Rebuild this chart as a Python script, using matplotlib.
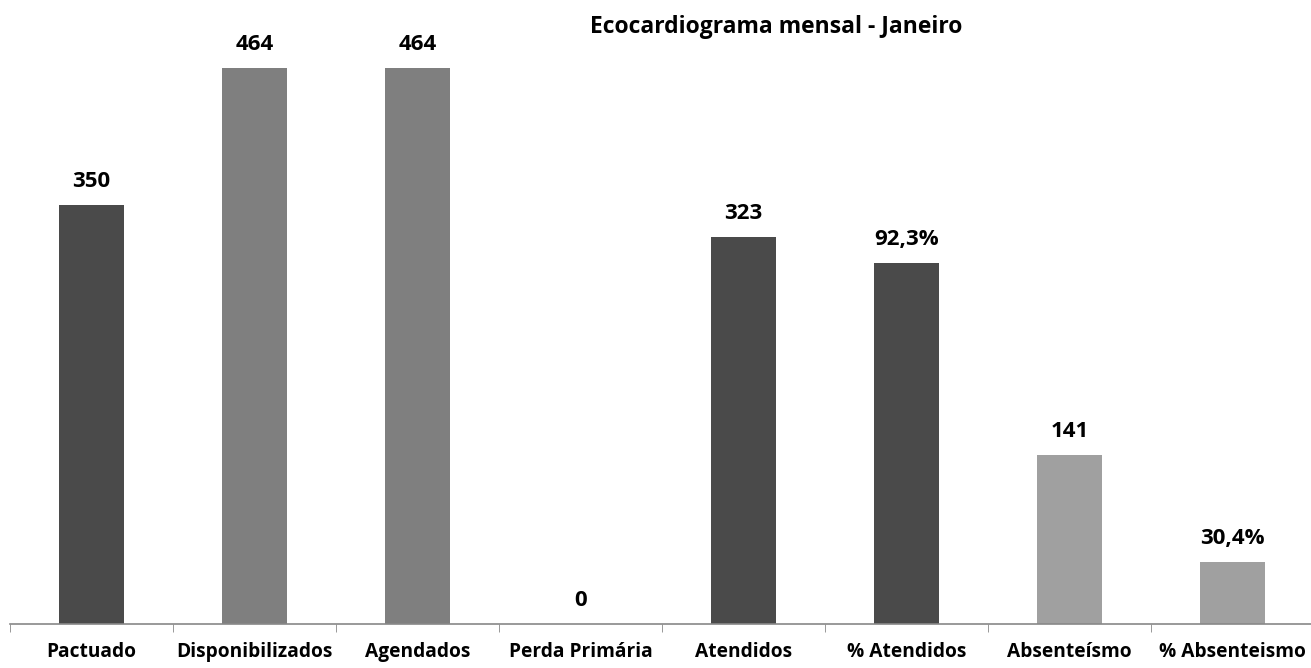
import numpy as np
import matplotlib.pyplot as plt

categorias = ["Pactuado", "Disponibilizados", "Agendados", "Perda Primária",
              "Atendidos", "% Atendidos", "Absenteísmo", "% Absenteismo"]
# altura das barras como aparecem no gráfico (as de % estão noutra escala)
alturas = [350, 464, 464, 0, 323, 301, 141, 51.5]
rotulos = ["350", "464", "464", "0", "323", "92,3%", "141", "30,4%"]
cores = ["#4a4a4a", "#7f7f7f", "#7f7f7f", "#7f7f7f",
         "#4a4a4a", "#4a4a4a", "#a0a0a0", "#a0a0a0"]

plt.rcParams['font.family'] = ['Open Sans', 'DejaVu Sans']

fig = plt.figure(figsize=(13.11, 6.68), dpi=100)
ax = fig.add_axes([10/1311, 44/668, 1304/1311, 614/668])

x = np.arange(len(categorias))
ax.bar(x, alturas, width=0.4, color=cores)
for xi, h, r in zip(x, alturas, rotulos):
    ax.annotate(r, (xi, h), xytext=(0, 13), textcoords="offset points",
                ha="center", va="baseline", fontsize=16, fontweight="bold")

ax.set_xlim(-0.5, len(categorias) - 0.5)
ax.set_ylim(0, 512.5)
ax.set_yticks([])
ax.set_xticks(x)
ax.set_xticklabels(categorias, fontsize=13.8, fontweight="bold")
ax.set_xticks(np.arange(-0.5, len(categorias)), minor=True)
ax.tick_params(axis="x", which="major", length=0, pad=13)
ax.tick_params(axis="x", which="minor", length=6, color="#888888")
for s in ["top", "right", "left"]:
    ax.spines[s].set_visible(False)
ax.spines["bottom"].set_color("#888888")
ax.spines["bottom"].set_linewidth(1.2)

fig.text(776/1311, 1 - 33/668, "Ecocardiograma mensal - Janeiro",
         ha="center", va="baseline", fontsize=16.5, fontweight="bold")

fig.savefig("out.png", dpi=100)
